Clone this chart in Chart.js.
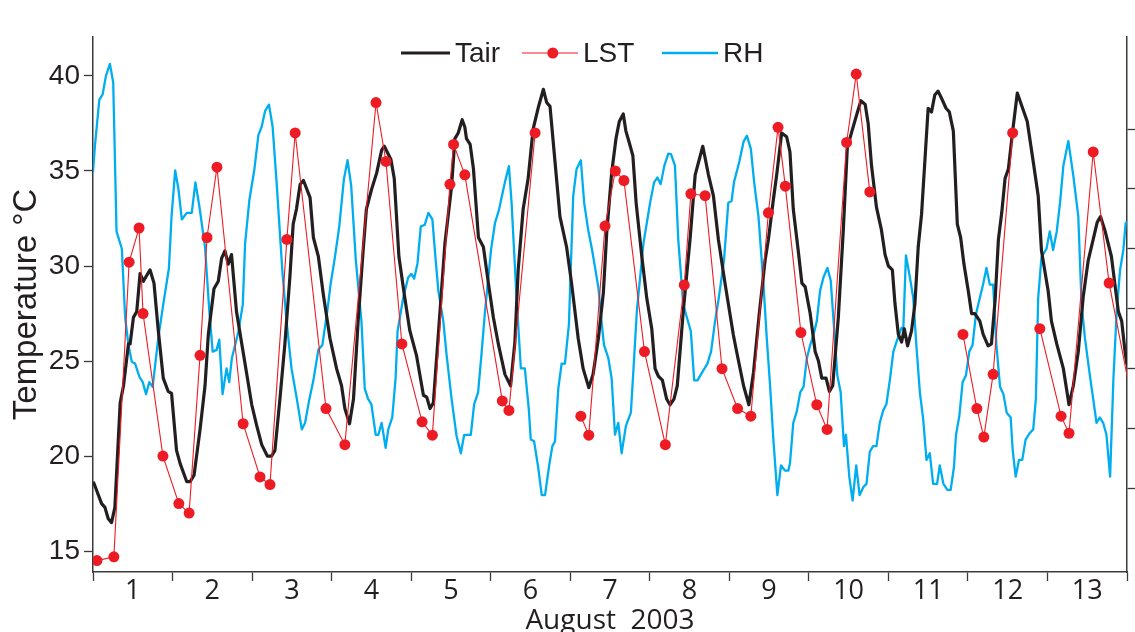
<!DOCTYPE html>
<html>
<head>
<meta charset="utf-8">
<title>Tair, LST and RH - August 2003</title>
<script src="https://cdn.jsdelivr.net/npm/chart.js@4/dist/chart.umd.min.js"></script>
<style>
  html, body { margin: 0; padding: 0; background: #fff; overflow: hidden; }
  canvas { display: block; }
</style>
</head>
<body>
<canvas id="climateChart" width="1135" height="632"></canvas>
<script>
// hours counted from 1 August 2003 00:00
const tairHours = [0.1, 2.6, 3.6, 4.6, 5.6, 6.6, 8.2, 9.2, 10.7, 11.2, 12.2, 13.2, 14.2, 15.2, 17.2, 18.4, 19.7, 21.2, 22.7, 23.7,
  25.2, 26.3, 28.3, 29.3, 30.5, 32.3, 33.8, 34.8, 36.5, 37.8, 38.8, 39.8, 40.8, 41.8, 43.3, 44.9, 46.4, 47.9,
  49.4, 50.9, 52.6, 53.9, 54.9, 56.4, 57.9, 59.4, 60.4, 61.4, 62.5, 63.5, 65.5, 66.5, 68.0, 69.5, 71.5, 73.5,
  75.0, 76.0, 77.4, 78.6, 80.0, 81.5, 82.5, 84.0, 85.6, 87.1, 87.9, 89.9, 90.9, 92.3, 94.1, 95.6, 97.6, 99.7,
  100.7, 101.7, 102.7, 104.7, 106.2, 108.2, 109.2, 110.2, 111.4, 112.2, 112.7, 113.8, 114.8, 116.3, 117.8,
  119.3, 120.8, 122.3, 124.3, 126.0, 127.3, 128.3, 129.8, 131.3, 132.8, 134.3, 135.9, 136.9, 137.9, 139.4,
  140.9, 142.9, 144.4, 146.4, 147.9, 149.6, 150.9, 152.5, 154.0, 155.0, 156.5, 157.8, 158.8, 160.0, 160.8,
  161.8, 162.9, 163.9, 165.6, 167.1, 168.6, 169.6, 170.6, 171.8, 173.1, 174.1, 175.3, 176.3, 178.1, 180.2,
  181.7, 184.0, 185.7, 187.2, 188.7, 190.7, 193.2, 194.2, 196.3, 197.9, 199.3, 201.1, 202.8, 203.8, 205.3,
  206.3, 207.8, 209.3, 210.3, 211.3, 212.8, 213.9, 214.9, 216.4, 217.9, 218.9, 219.9, 221.2, 222.2, 223.2,
  224.9, 226.4, 227.6, 229.0, 230.5, 231.7, 233.0, 233.9, 234.9, 236.4, 237.9, 239.0, 240.0, 241.2, 242.0,
  243.0, 244.0, 244.8, 245.8, 247.0, 248.0, 249.0, 250.0, 251.0, 252.0, 253.0, 254.0, 255.0, 256.1, 257.4,
  258.4, 259.6, 260.8, 261.8, 262.8, 264.1, 265.1, 266.1, 267.6, 268.6, 270.1, 271.1, 272.2, 273.2, 274.2,
  275.2, 276.2, 277.5, 278.9, 280.5, 281.9, 283.7, 285.2, 286.2, 288.2, 289.2, 290.8, 292.8, 294.5, 295.8,
  297.3, 298.8, 300.3, 301.8, 303.0, 304.0, 305.3, 307.3, 308.3, 309.4, 310.4, 311.4, 312.0];
const tairValues = [18.65, 17.5, 17.3, 16.7, 16.5, 17.3, 22.8, 23.7, 25.9, 25.9, 27.3, 27.6, 29.6, 29.2, 29.8, 29.1, 26.6, 24.1, 23.4, 23.3,
  20.3, 19.6, 18.65, 18.65, 19.0, 21.4, 23.7, 26.4, 28.8, 29.2, 30.4, 30.8, 30.1, 30.6, 27.6, 25.9, 24.3, 22.7,
  21.6, 20.6, 20.0, 20.0, 20.3, 23.0, 25.9, 29.4, 32.2, 33.0, 34.3, 34.5, 33.6, 31.5, 30.5, 28.5, 26.2, 24.6,
  23.7, 22.5, 21.7, 23.0, 27.1, 30.8, 33.0, 34.0, 34.9, 36.1, 36.3, 35.6, 34.6, 30.5, 28.3, 26.6, 25.3, 23.2,
  23.1, 22.5, 22.8, 27.6, 31.2, 34.2, 36.7, 37.0, 37.7, 37.3, 36.7, 36.4, 35.1, 31.5, 31.0,
  29.1, 27.3, 25.9, 24.3, 23.7, 26.0, 29.8, 33.0, 34.6, 37.2, 38.3, 39.3, 38.6, 38.4, 35.5,
  32.6, 31.0, 29.1, 26.2, 24.6, 23.6, 24.3, 26.2, 28.6, 31.7, 34.9, 36.7, 37.6, 38.0, 37.1,
  36.5, 35.8, 33.3, 30.5, 28.3, 26.7, 24.6, 24.2, 24.0, 23.0, 22.7, 23.0, 23.7, 27.6, 31.5,
  34.8, 36.3, 34.8, 33.7, 31.4, 29.1, 26.4, 25.5, 23.7, 22.7, 24.4, 27.6, 30.3, 31.4, 33.5,
  34.8, 37.0, 36.8, 36.0, 33.0, 30.8, 29.1, 28.9, 27.5, 25.5, 25.0, 24.1, 24.1, 23.4, 23.7,
  27.3, 31.9, 36.2, 37.1, 38.0, 38.7, 38.5, 37.5, 35.3, 33.1, 31.9, 30.6, 30.0, 29.8, 28.0,
  26.4, 26.0, 26.7, 25.8, 26.6, 28.0, 31.0, 32.7, 35.5, 38.3, 38.1, 39.0, 39.2, 38.8, 38.3,
  38.1, 37.1, 32.2, 31.5, 30.1, 28.7, 27.5, 27.5, 27.1, 26.4, 25.8, 25.9, 28.2, 31.4, 32.8,
  34.6, 35.1, 37.1, 39.1, 38.3, 37.6, 35.5, 33.7, 30.8, 28.7, 27.1, 25.9, 24.6, 22.7, 23.7,
  25.5, 28.4, 30.3, 31.4, 32.3, 32.6, 31.9, 30.5, 29.1, 27.6, 27.1, 25.5, 24.8];

// satellite LST overpasses, null = no retrieval
const lstHours = [1.2, 6.3, 10.9, 13.9, 15.1, 21.1, 25.9, 29.0, 32.3, 34.4, 37.4, 45.3, 50.4, 53.4, 58.5, 61.0, 70.3, 76.0,
  85.4, 88.4, 93.2, 99.3, 102.4, 107.7, 108.8, 112.2, 123.5, 125.5, 133.4, 140.0, 147.2, 149.6, 154.5, 157.6,
  160.2, 166.4, 172.7, 178.4, 180.4, 184.7, 189.8, 194.5, 198.5, 203.8, 206.7, 208.9, 213.6, 218.4, 221.5,
  227.4, 230.3, 234.4, 248.0, 262.5, 266.7, 268.8, 271.6, 277.5, 281.0, 285.7, 292.1, 294.5, 301.8, 306.6, 314.5];
const lstValues = [14.5, 14.7, 30.2, 32.0, 27.5, 20.0, 17.5, 17.0, 25.3, 31.5, 35.2, 21.7, 18.9, 18.5, 31.4, 37.0, 22.5, 20.6,
  38.6, 35.5, 25.9, 21.8, 21.1, 34.3, 36.4, 34.8, 22.9, 22.4, 37.0, null, 22.1, 21.1, 32.1, 35.0,
  34.5, 25.5, 20.6, 29.0, 33.8, 33.7, 24.6, 22.5, 22.1, 32.8, 37.3, 34.2, 26.5, 22.7, 21.4,
  36.5, 40.1, 33.9, null, 26.4, 22.5, 21.0, 24.3, 37.0, null, 26.7, 22.1, 21.2, 36.0, 29.1, 22.0];

// relative humidity (%), right axis
const rhHours = [0, 0.6, 1.9, 2.9, 3.9, 5.1, 6.1, 7.1, 8.7, 9.7, 10.7, 11.7, 12.7, 14.0, 15.0, 16.0, 17.0, 18.0, 19.7, 21.2,
  22.9, 23.7, 24.8, 25.8, 26.8, 28.3, 29.8, 30.9, 32.1, 33.8, 35.1, 36.1, 37.3, 38.1, 39.1, 40.3, 41.1, 41.9,
  43.9, 45.2, 45.9, 47.2, 48.7, 49.9, 50.9, 51.9, 53.1, 54.2, 55.4, 57.2, 58.4, 59.9, 61.5, 63.0, 64.0, 65.3,
  66.5, 68.0, 69.2, 70.7, 71.7, 73.0, 74.3, 75.7, 76.8, 77.9, 79.3, 81.0, 82.0, 83.0, 84.0, 85.3, 86.1, 87.1,
  88.3, 89.1, 90.3, 91.3, 91.9, 93.6, 95.1, 96.1, 96.9, 97.9, 98.9, 100.1, 101.2, 102.4, 103.4, 104.2, 105.7,
  106.7, 108.2, 109.7, 111.0, 112.0, 114.0, 115.0, 116.2, 117.2, 118.3, 120.1, 121.3, 122.5, 123.5, 124.5,
  125.5, 126.3, 127.8, 129.1, 130.3, 131.5, 132.1, 133.1, 134.3, 135.4, 136.4, 137.6, 138.6, 139.4, 140.4,
  141.4, 142.4, 143.6, 144.9, 145.9, 147.2, 148.2, 149.4, 150.6, 152.5, 153.5, 154.2, 155.5, 156.5, 157.5,
  158.5, 159.5, 160.8, 162.3, 163.1, 164.1, 166.1, 168.1, 169.3, 170.3, 171.3, 172.4, 173.6, 174.4, 175.6,
  176.6, 178.1, 179.2, 180.4, 181.4, 182.4, 184.2, 185.4, 186.5, 187.7, 188.7, 190.4, 191.7, 192.7, 193.4,
  195.0, 196.3, 197.3, 198.5, 199.5, 200.8, 202.3, 203.3, 204.3, 205.3, 206.5, 207.6, 208.8, 209.8, 210.3,
  211.3, 212.4, 213.4, 214.4, 215.4, 216.4, 217.4, 218.4, 219.4, 220.4, 221.6, 222.6, 223.6, 224.6, 225.6,
  226.6, 227.2, 228.2, 229.2, 230.3, 231.3, 232.5, 233.4, 234.4, 235.4, 236.4, 237.4, 238.4, 239.4, 240.5,
  241.5, 242.5, 244.0, 244.5, 245.3, 246.5, 247.5, 248.5, 249.5, 250.5, 251.5, 252.5, 253.5, 254.7, 255.5,
  256.6, 257.8, 258.8, 259.8, 260.4, 261.4, 262.4, 263.4, 264.4, 265.4, 266.4, 267.6, 268.6, 269.6, 270.6,
  271.6, 272.6, 273.7, 274.7, 275.7, 276.9, 277.5, 278.4, 279.4, 280.4, 281.4, 282.7, 283.7, 284.5, 285.2,
  286.2, 287.7, 288.7, 289.7, 290.8, 291.8, 292.8, 294.3, 295.8, 297.3, 298.3, 299.3, 300.8, 301.8, 302.8,
  303.8, 304.8, 305.8, 306.9, 307.9, 308.9, 309.9, 310.9, 311.6, 312.0];
const rhValues = [82.8, 87.3, 94.9, 95.8, 98.9, 100.9, 97.8, 72.9, 70.0, 58.5, 53.9, 51.1, 50.8, 48.6, 47.7, 45.7, 47.7, 46.9, 55.1, 60.7,
  66.7, 75.4, 83.1, 79.9, 74.9, 76.0, 76.0, 81.1, 77.1, 70.3, 59.6, 52.8, 53.1, 54.8, 45.7, 50.0, 47.7, 51.7,
  56.2, 60.7, 70.9, 78.2, 83.3, 89.0, 90.4, 93.0, 94.1, 90.4, 81.1, 65.8, 57.9, 50.0, 44.9, 39.8, 40.9, 44.9,
  48.0, 53.1, 53.9, 59.6, 64.1, 68.6, 73.7, 81.6, 84.8, 80.6, 68.1, 57.9, 46.6, 44.9, 44.0, 38.9, 38.9, 40.9,
  36.7, 39.8, 41.8, 48.3, 56.2, 61.8, 65.2, 65.8, 65.0, 67.5, 73.7, 74.0, 76.0, 74.9, 68.1, 63.0, 57.9,
  52.2, 44.9, 38.7, 35.8, 38.9, 38.9, 44.0, 46.0, 52.2, 59.6, 69.8, 74.3, 76.5, 79.1, 81.6,
  83.8, 77.7, 61.8, 50.0, 50.0, 43.2, 38.1, 37.8, 33.6, 28.8, 28.8, 33.6, 37.0, 37.8, 46.6,
  50.8, 50.8, 57.3, 78.8, 83.3, 84.8, 77.7, 73.2, 69.8, 63.5, 57.5, 53.9, 51.7, 48.3, 38.9,
  40.9, 35.8, 40.4, 42.6, 50.0, 59.6, 70.9, 77.7, 81.1, 81.9, 80.8, 83.9, 85.9, 85.8, 83.9,
  71.5, 60.7, 58.5, 56.2, 48.0, 48.0, 49.7, 50.8, 52.8, 57.9, 61.3, 68.1, 77.7, 78.0, 81.1,
  84.5, 87.9, 88.9, 86.7, 81.1, 75.4, 64.1, 55.1, 47.1, 38.1, 28.8, 33.8, 32.9, 32.9, 34.1,
  40.9, 42.9, 46.0, 46.9, 51.7, 53.9, 55.6, 57.9, 63.0, 65.2, 66.8, 64.7, 56.8, 48.8, 46.0,
  37.0, 38.9, 31.9, 27.9, 33.8, 28.8, 30.2, 30.7, 36.1, 37.0, 37.0, 40.9, 42.9, 44.0, 48.3,
  52.8, 54.5, 56.8, 56.5, 68.9, 65.2, 61.8, 53.4, 46.0, 41.5, 34.7, 35.8, 30.7, 30.7, 33.8,
  30.7, 29.7, 29.7, 33.6, 38.9, 42.0, 47.7, 48.8, 52.8, 53.9, 59.0, 61.8, 64.1, 66.8, 64.0,
  64.0, 53.9, 46.9, 45.7, 42.6, 41.8, 36.4, 31.9, 34.7, 34.7, 38.1, 39.2, 39.8, 44.9, 61.8,
  68.6, 70.0, 72.9, 69.8, 72.9, 77.7, 83.9, 88.0, 82.2, 75.4, 60.7, 55.1, 48.8, 44.9, 40.9,
  41.8, 40.9, 38.9, 31.9, 48.3, 59.6, 66.4, 69.8, 74.3, 74.5];

const rhTicks = [30, 40, 50, 60, 70, 80, 90];

const toPoints = (xs, ys) => xs.map((x, i) => ({ x: x, y: ys[i] }));

const AXIS = "#3a3a3a";
const TEXT = "#231f20";

// key drawn inside the plot, above the curves
const seriesKey = {
  id: "seriesKey",
  afterDraw(chart, args, opts) {
    const ctx = chart.ctx;
    ctx.save();
    ctx.font = opts.font;
    ctx.textBaseline = "alphabetic";
    chart.data.datasets.forEach((ds, i) => {
      const x0 = opts.starts[i];
      const w = opts.widths[i];
      ctx.strokeStyle = ds.borderColor;
      ctx.lineWidth = ds.borderWidth;
      ctx.beginPath();
      ctx.moveTo(x0, opts.lineY);
      ctx.lineTo(x0 + w, opts.lineY);
      ctx.stroke();
      if (ds.pointRadius > 0) {
        ctx.fillStyle = ds.pointBackgroundColor;
        ctx.beginPath();
        ctx.arc(x0 + w * 0.55, opts.lineY, ds.pointRadius, 0, Math.PI * 2);
        ctx.fill();
      }
      ctx.fillStyle = opts.color;
      ctx.fillText(ds.label, x0 + w + opts.gap, opts.textY);
    });
    ctx.restore();
  }
};

new Chart(document.getElementById("climateChart"), {
  type: "line",
  data: {
    datasets: [
      {
        label: "Tair",
        data: toPoints(tairHours, tairValues),
        borderColor: "#231f20",
        borderWidth: 3.2,
        borderJoinStyle: "round",
        pointRadius: 0,
        yAxisID: "y",
        order: 1,
      },
      {
        label: "LST",
        data: toPoints(lstHours, lstValues),
        borderColor: "#ed1c24",
        borderWidth: 1.1,
        pointRadius: 5.5,
        pointBackgroundColor: "#ed1c24",
        pointBorderWidth: 0,
        spanGaps: false,
        yAxisID: "y",
        order: 0,
      },
      {
        label: "RH",
        data: toPoints(rhHours, rhValues),
        borderColor: "#00aeef",
        borderWidth: 2.3,
        borderJoinStyle: "round",
        pointRadius: 0,
        yAxisID: "rh",
        order: 2,
      },
    ],
  },
  options: {
    responsive: false,
    animation: false,
    layout: { padding: { top: 37, left: 0, right: 0, bottom: 0 } },
    plugins: {
      legend: { display: false },
      tooltip: { enabled: false },
      seriesKey: {
        starts: [401, 522, 662],
        widths: [49, 56, 56],
        gap: 5,
        lineY: 53,
        textY: 61.5,
        font: "28px 'Liberation Sans', Arial, sans-serif",
        color: TEXT,
      },
    },
    scales: {
      x: {
        type: "linear",
        position: "bottom",
        min: 0,
        max: 312,
        afterBuildTicks: (axis) => {
          const ticks = [];
          for (let h = 0; h <= 312; h += 12) ticks.push({ value: h });
          axis.ticks = ticks;
        },
        afterFit: (axis) => { axis.height = 60; },
        ticks: {
          autoSkip: false,
          maxRotation: 0,
          padding: -3,
          color: TEXT,
          font: { family: "'Open Sans', sans-serif", size: 27, lineHeight: 1 },
          callback: (v) => (v % 24 === 12 ? String((v - 12) / 24 + 1) : ""),
        },
        grid: {
          drawOnChartArea: false,
          tickLength: 9,
          tickWidth: 1.3,
          tickColor: (c) => (c.tick && c.tick.value % 24 === 0 ? AXIS : "rgba(0,0,0,0)"),
        },
        border: { color: AXIS, width: 1.5 },
        title: {
          display: true,
          text: "August  2003",
          color: TEXT,
          font: { family: "'Open Sans', sans-serif", size: 28, lineHeight: 0.75 },
          padding: 0,
        },
      },
      y: {
        position: "left",
        min: 13.9,
        max: 42.05,
        afterFit: (axis) => { axis.width = 93; },
        ticks: {
          stepSize: 5,
          includeBounds: false,
          padding: 4,
          color: TEXT,
          font: { family: "'Liberation Sans', Arial, sans-serif", size: 28 },
        },
        grid: { drawOnChartArea: false, tickLength: 9, tickWidth: 1.3, tickColor: AXIS },
        border: { color: AXIS, width: 1.5 },
        title: {
          display: true,
          text: "Temperature °C",
          color: TEXT,
          font: { family: "'Liberation Sans', Arial, sans-serif", size: 33, lineHeight: 1 },
          padding: { top: 10, bottom: 0 },
        },
      },
      rh: {
        position: "right",
        min: 15.96,
        max: 105.4,
        afterBuildTicks: (axis) => {
          axis.ticks = rhTicks.map((v) => ({ value: v }));
        },
        afterFit: (axis) => { axis.width = 8; },
        ticks: { display: false, stepSize: 10, includeBounds: false },
        grid: { drawOnChartArea: false, tickLength: 8, tickWidth: 1.3, tickColor: AXIS },
        border: { color: AXIS, width: 1.5 },
      },
    },
  },
  plugins: [seriesKey],
});
</script>
</body>
</html>
